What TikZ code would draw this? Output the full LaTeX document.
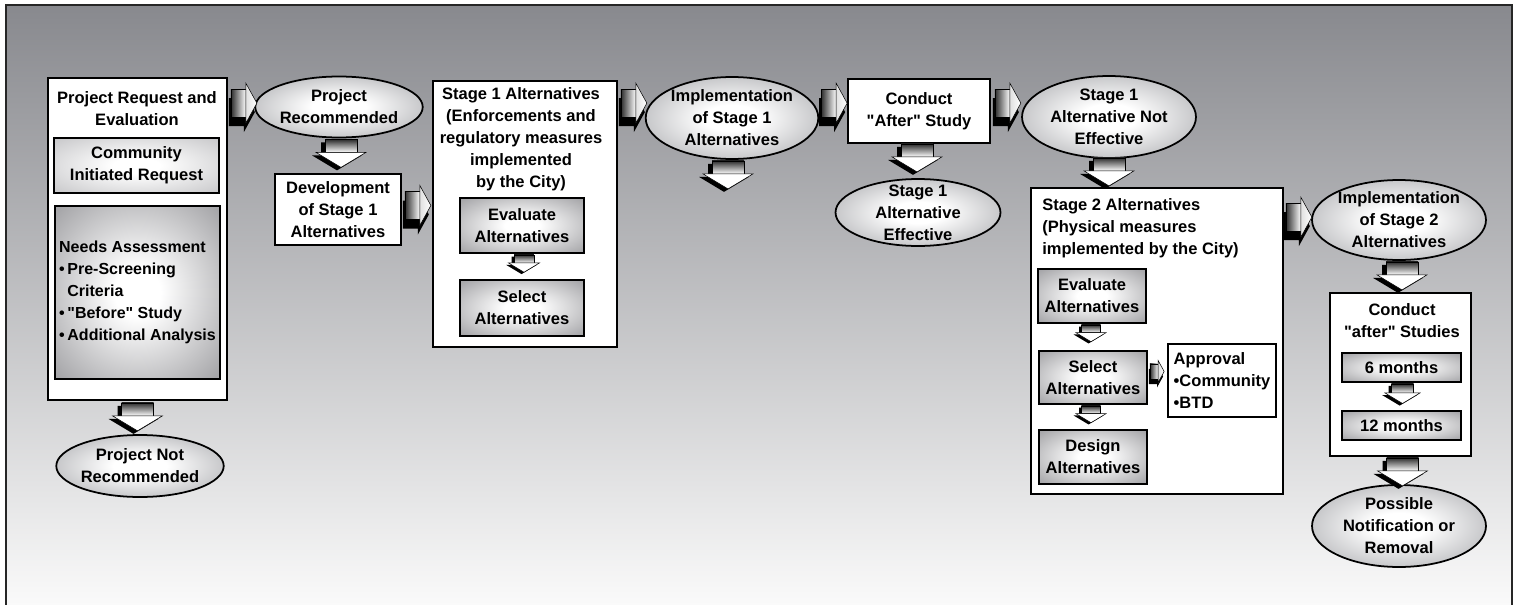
\documentclass[tikz,border=0pt]{standalone}
\usepackage{fontspec}
\setmainfont{Liberation Sans}
\usepackage{tikz}
\usetikzlibrary{calc,shapes.geometric}
\definecolor{bgtop}    {RGB}{136,137,142}
\definecolor{bgbot}    {RGB}{250,250,250}
\definecolor{ovalgray} {RGB}{160,161,165}
\definecolor{boxgray}  {RGB}{166,166,169}
\definecolor{lightgray}{RGB}{202,202,204}
\definecolor{shaftdark}{RGB}{ 45, 45, 45}
\pgfdeclareradialshading{glowoval}{\pgfpoint{0bp}{0bp}}{color(0bp)=(white); color(8bp)=(white); color(37bp)=(ovalgray); color(50bp)=(ovalgray)}
\pgfdeclareradialshading{glowbox}{\pgfpoint{0bp}{0bp}}{color(0bp)=(white); color(7bp)=(white); color(34bp)=(boxgray); color(50bp)=(boxgray)}
\pgfdeclareradialshading{glowlight}{\pgfpoint{0bp}{0bp}}{color(0bp)=(white); color(7bp)=(white); color(34bp)=(lightgray); color(50bp)=(lightgray)}

\begin{document}
\begin{tikzpicture}[
    x=0.02cm, y=-0.02cm,
    bigbox/.style={draw, line width=1pt, fill=white, rectangle, inner sep=0pt, align=center, font=\fontsize{9.4}{12.5}\selectfont\bfseries},
    inbox/.style={draw, line width=1pt, rectangle, shade, shading=glowbox, inner sep=0pt, align=center, font=\fontsize{9.4}{12.5}\selectfont\bfseries},
    inlight/.style={inbox, shading=glowlight},
    oval/.style={draw, line width=1pt, ellipse, shade, shading=glowoval, inner xsep=0pt, inner ysep=-1pt, align=center, font=\fontsize{9.4}{12.5}\selectfont\bfseries},
    boxtitle/.style={inner sep=0pt, align=center, font=\fontsize{9.4}{12.5}\selectfont\bfseries},
    rarr/.pic={
        \fill[black, shift={(-2,9)}] (0,-14) -- (15,-14) -- (15,-20) -- (26,0) -- (15,20) -- (15,14) -- (0,14) -- cycle;
        \shade[left color=shaftdark, right color=white, draw=black, line width=0.3pt] (0,-14) rectangle (15,14);
        \shade[left color=black!12, right color=white, draw=black, line width=0.3pt] (15,-20) -- (26,0) -- (15,20) -- cycle;
    },
    darr/.pic={
        \fill[black, shift={(-4,3)}] (-16,0) -- (16,0) -- (16,13) -- (25,13) -- (0,28) -- (-25,13) -- (-16,13) -- cycle;
        \shade[top color=shaftdark, bottom color=white, draw=black, line width=0.3pt] (-16,0) rectangle (16,13);
        \fill[white, draw=black, line width=0.3pt] (-25,13) -- (25,13) -- (0,28) -- cycle;
    }
]
    \useasboundingbox (0,0) rectangle (1518,605);
    % Background panel
    \shade[top color=bgtop, bottom color=bgbot] (6,5) rectangle (1512,605);
    \draw[line width=1.1pt, black!85] (6,605) -- (6,5) -- (1512,5) -- (1512,605);

    % Request and evaluation
    \node[bigbox, minimum width=3.58cm, minimum height=6.44cm] (req) at (137.5,239) {};
    \node[boxtitle] (reqtitle) at (137,109) {Project Request and\\Evaluation};
    \node[inlight, minimum width=3.30cm, minimum height=1.10cm] (comm) at (136.5,165.5) {Community\\Initiated Request};
    \node[inbox, align=left, font=\fontsize{9.1}{12.5}\selectfont\bfseries, minimum width=3.30cm, minimum height=3.46cm] (needs) at (137.5,292.5) {Needs Assessment\\•\,Pre-Screening\\\phantom{•\,}Criteria\\•\,\textquotedbl Before\textquotedbl{} Study\\•\,Additional Analysis};
    \node[oval, minimum width=3.28cm, minimum height=1.24cm] (notrec) at (140,466) {Project Not\\Recommended};
    \node[oval, minimum width=3.32cm, minimum height=1.22cm] (rec) at (339,107) {Project\\Recommended};
    \node[bigbox, minimum width=2.52cm, minimum height=1.42cm] (dev) at (338,209.5) {Development\\of Stage 1\\Alternatives};

    % Stage 1
    \node[bigbox, minimum width=3.68cm, minimum height=5.32cm] (st1) at (525,214) {};
    \node[boxtitle] (st1title) at (521,139) {Stage 1 Alternatives\\(Enforcements and\\regulatory measures\\implemented\\by the City)};
    \node[inbox, minimum width=2.48cm, minimum height=1.10cm] (eval1) at (522,225.5) {Evaluate\\Alternatives};
    \node[inbox, minimum width=2.48cm, minimum height=1.12cm] (sel1) at (522,308) {Select\\Alternatives};
    \node[oval, minimum width=3.44cm, minimum height=1.64cm] (imp1) at (732,118) {Implementation\\of Stage 1\\Alternatives};
    \node[bigbox, minimum width=2.84cm, minimum height=1.28cm] (aft) at (919,111) {Conduct\\\textquotedbl After\textquotedbl{} Study};
    \node[oval, inner ysep=-4pt, minimum width=3.30cm, minimum height=1.34cm] (eff) at (918,212.5) {Stage 1\\Alternative\\Effective};
    \node[oval, minimum width=3.48cm, minimum height=1.64cm] (noteff) at (1109,117) {Stage 1\\Alternative Not\\Effective};

    % Stage 2
    \node[bigbox, minimum width=5.04cm, minimum height=6.12cm] (st2) at (1157,341) {};
    \node[boxtitle, align=left, anchor=west] (st2title) at (1042,228) {Stage 2 Alternatives\\(Physical measures\\implemented by the City)};
    \node[inbox, minimum width=2.16cm, minimum height=1.08cm] (eval2) at (1092,296) {Evaluate\\Alternatives};
    \node[inbox, minimum width=2.16cm, minimum height=1.06cm] (sel2) at (1093,377.5) {Select\\Alternatives};
    \node[inbox, minimum width=2.16cm, minimum height=1.08cm] (des2) at (1093,457) {Design\\Alternatives};
    \node[bigbox, align=left, minimum width=2.16cm, minimum height=1.46cm] (appr) at (1222,380.5) {Approval\\•Community\\•BTD};
    \node[oval, minimum width=3.48cm, minimum height=1.60cm] (imp2) at (1399,220) {Implementation\\of Stage 2\\Alternatives};
    \node[bigbox, minimum width=2.82cm, minimum height=3.26cm] (aft2) at (1400.5,374.5) {};
    \node[boxtitle] (aft2title) at (1402,320.5) {Conduct\\\textquotedbl after\textquotedbl{} Studies};
    \node[inbox, minimum width=2.38cm, minimum height=0.58cm] (m6) at (1401.5,367.5) {6 months};
    \node[inbox, minimum width=2.38cm, minimum height=0.58cm] (m12) at (1401.5,425.5) {12 months};
    \node[oval, minimum width=3.48cm, minimum height=1.64cm] (poss) at (1399,526) {Possible\\Notification or\\Removal};

    % Block arrows
    \pic at ($(req.north east)+(3,26)$) {rarr};
    \pic at ($(req.south)+(0,2)$) {darr};
    \pic at ($(rec.south)+(2,1)$) {darr};
    \pic at ($(dev.east)+(3,-4)$) {rarr};
    \pic[scale=0.62] at ($(eval1.south)+(2,1)$) {darr};
    \pic at ($(st1.north east)+(3,23)$) {rarr};
    \pic at ($(imp1.south)+(-4,1)$) {darr};
    \pic at ($(aft.north west)+(-26,25)$) {rarr};
    \pic at ($(aft.south)+(-2,0)$) {darr};
    \pic at ($(aft.north east)+(4,25)$) {rarr};
    \pic at ($(noteff.south)+(0,-1)$) {darr};
    \pic[scale=0.6] at ($(eval2.south)+(-1,1)$) {darr};
    \pic[scale=0.55] at ($(sel2.east)+(2,-6)$) {rarr};
    \pic[scale=0.6] at ($(sel2.south)+(-2,1)$) {darr};
    \pic at ($(st2.north east)+(2,30)$) {rarr};
    \pic at ($(imp2.south)+(3,1)$) {darr};
    \pic[scale=0.7] at ($(m6.south)+(1,1)$) {darr};
    \pic at ($(aft2.south)+(2,1)$) {darr};
\end{tikzpicture}
\end{document}
